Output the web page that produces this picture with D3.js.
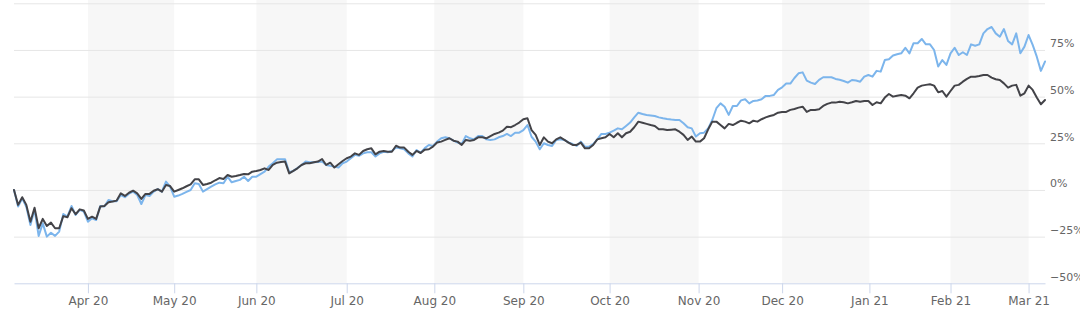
<!doctype html>
<html>
<head>
<meta charset="utf-8">
<title></title>
<script src="https://cdn.jsdelivr.net/npm/d3@7"></script>
<style>
	body { margin: 0; background: #fff; }
	#main text { font-family: "DejaVu Sans", Verdana, sans-serif; font-size: 11px; fill: #666666; }
	#main .x-axis text { font-size: 12px; }
</style>
</head>
<body>
<div id="main"></div>
<script>
// month ticks, as position in trading days from the first point
var tickLabels = ['Apr 20', 'May 20', 'Jun 20', 'Jul 20', 'Aug 20', 'Sep 20', 'Oct 20', 'Nov 20', 'Dec 20', 'Jan 21', 'Feb 21', 'Mar 21'];
var tickIndex = [18, 39, 59, 81, 102.33, 124, 145, 166.67, 187, 208.25, 228, 247];

var yLabelTicks = [-50, -25, 0, 25, 50, 75];
var yGridTicks = [-25, 0, 25, 50, 75, 100];

// % change, one value per trading day
var seriesBlue = [
	0, -8.9, -4.5, -9, -18.8, -10.5, -24.6, -17.9, -25, -22.9,
	-24.6, -22.3, -12.9, -14.3, -8.6, -13.4, -10.7, -11.6, -17, -15.2,
	-16.1, -8.6, -8.9, -5.4, -6, -6, -2.7, -3.9, -2, -0.9,
	-2.7, -7.5, -2.7, -3.2, -0.9, 0.4, -0.9, 4.5, 1.8, -3.6,
	-3, -2.1, -1, 0, 3.6, 3.2, -0.9, 0.5, 1.8, 3,
	3.9, 3.6, 7.1, 4.1, 4.8, 5.4, 7.1, 4.8, 7.1, 7.1,
	8.5, 9.8, 12.5, 14.3, 16.4, 16.4, 16.4, 9.5, 10.2, 11.8,
	13.4, 15.2, 14.8, 14.8, 15, 15.2, 13.4, 12.9, 12.5, 12,
	14.3, 15.2, 17, 18.8, 18.3, 19.6, 20.2, 20.2, 17.9, 19.6,
	20.5, 20.2, 20.9, 22.7, 22.3, 21.8, 19.6, 17.9, 21.4, 20,
	22.4, 24.1, 23.6, 25.9, 27.7, 28.2, 27.7, 26.4, 25.4, 24.6,
	28.9, 27.7, 27.1, 28.9, 28.9, 27.1, 26.8, 27.1, 28.2, 28.9,
	30, 28.9, 30.7, 30.7, 32.1, 34.8, 28.5, 25.9, 21.8, 25,
	24.1, 23.6, 26.8, 27.1, 26.8, 25.4, 24.6, 23.6, 25.9, 23.2,
	23.2, 24.6, 27.1, 30, 30, 30.7, 31.8, 33, 32.5, 34.3,
	36.1, 38.9, 41.4, 40.7, 40.2, 39.9, 39.6, 38.9, 38.4, 38,
	37.7, 37.5, 37.5, 35.7, 33.6, 33, 28.6, 30.4, 30.7, 33,
	37.5, 43.8, 46.4, 44.6, 40.2, 45, 45, 48, 48.6, 46.4,
	47.7, 47.9, 48.6, 50.4, 50.4, 50.9, 53.6, 55, 57, 57,
	60, 62.5, 63, 58.6, 57.5, 56.8, 59, 60.4, 60.4, 60.4,
	59.5, 59, 58.4, 57.5, 58.9, 58.6, 58, 60.7, 61.6, 60.7,
	63.8, 63.4, 69.6, 70, 72, 72.7, 73.2, 76.2, 73.2, 78.6,
	78.6, 80.9, 78, 78, 75, 66.1, 69.6, 67, 73.2, 76.2,
	72.3, 73.8, 72.3, 78, 77.3, 78, 83.9, 86.2, 87.3, 83.9,
	82.1, 86.2, 79.8, 78, 83.9, 73.2, 76.8, 83, 77.7, 71.4,
	63.8, 68.8
];
var seriesDark = [
	0, -8, -3.9, -8, -17, -9.5, -20.5, -15.5, -19.3, -17.5,
	-20.5, -20.5, -14, -14.6, -9.8, -13, -10.4, -11, -15.5, -14.3,
	-15.5, -8.9, -8.6, -6.6, -6.2, -5.7, -1.8, -3.2, -1.5, -0.4,
	-1.8, -4.8, -2.1, -2.1, -0.4, 0.4, -0.9, 2.7, 2.1, -0.9,
	0, 0.9, 2, 3, 5.7, 5.7, 2.7, 3.2, 3.9, 5.2,
	6.4, 5.9, 8, 7.1, 7.5, 8, 8.6, 8.4, 9.8, 10.2,
	10.7, 11.6, 10.7, 13.4, 14.6, 15, 15.2, 8.9, 10.2, 11.6,
	13.4, 14.3, 14.3, 14.8, 15.2, 16.6, 13.4, 14.6, 12, 13.8,
	15.5, 17, 17.9, 19.6, 18.8, 20.9, 21.8, 22.3, 19.1, 20.5,
	20.9, 20.5, 20.5, 23.7, 22.7, 22.7, 20.5, 18.8, 20.9, 19.8,
	21.6, 21.8, 23.2, 25.4, 25.9, 26.8, 27.7, 26.4, 25.9, 24.1,
	26.8, 26.4, 26.8, 28.2, 28.2, 27.7, 28.9, 30, 30.7, 31.8,
	33.9, 33.6, 34.8, 36.1, 37.9, 38.4, 32.1, 29.5, 24.1, 28.2,
	25.9, 25, 27.1, 28.2, 26.8, 25.4, 24.1, 24.1, 25.4, 22.3,
	22.3, 24.1, 27.1, 27.7, 28.2, 30, 28.2, 30.4, 28.2, 30.4,
	31.2, 33.6, 36.6, 36, 35.4, 34.8, 34.3, 32.5, 32.5, 32.1,
	32.3, 32.5, 31.2, 29.5, 26.8, 28.6, 25.9, 25.9, 27.7, 32.5,
	36.6, 36.6, 34.8, 33, 35.4, 34.8, 36, 37.1, 36.6, 35.7,
	37.1, 36.6, 37.9, 38.9, 39.6, 40.2, 41.4, 41.8, 41.8, 42.9,
	43.4, 44.1, 44.6, 41.8, 42.9, 42.9, 43.2, 45, 46.1, 46.8,
	46.8, 47.3, 47, 46.4, 47, 47.7, 47.3, 47.7, 47.7, 45.5,
	47, 46.4, 49.5, 51.4, 50, 50.5, 50.9, 50.5, 49.1, 51.8,
	54.8, 55.9, 56.3, 56.6, 55.9, 52.3, 53, 50, 53, 55.9,
	56.3, 58, 59.5, 60.7, 60.7, 61.1, 61.6, 61.6, 60.2, 59.3,
	58.9, 57.1, 54.8, 55.9, 56.3, 50.5, 51.8, 55.9, 53.6, 49.5,
	45.9, 48.2
];

var width = 1080, height = 318;
var plot = { left: 14, right: 1045, top: 3.3, bottom: 283.3 };

var svg = d3.select('#main').append('svg')
	.attr('width', width)
	.attr('height', height);

var x = d3.scaleLinear()
	.domain([0, seriesDark.length - 1])
	.range([plot.left, plot.right]);

var y = d3.scaleLinear()
	.domain([-50, 100])
	.range([plot.bottom, plot.top]);

// alternate month bands: Apr-May, Jun-Jul, ...
var bands = [];
for (var i = 0; i + 1 < tickIndex.length; i += 2) {
	bands.push([tickIndex[i], tickIndex[i + 1]]);
}
svg.append('g').selectAll('rect')
	.data(bands)
	.enter().append('rect')
	.attr('x', function(d) { return x(d[0]); })
	.attr('y', 0)
	.attr('width', function(d) { return x(d[1]) - x(d[0]); })
	.attr('height', plot.bottom)
	.attr('fill', '#f7f7f7');

// horizontal grid lines
var grid = svg.append('g')
	.attr('transform', 'translate(' + plot.left + ',0)')
	.call(d3.axisRight(y)
		.tickValues(yGridTicks)
		.tickSize(plot.right - plot.left)
		.tickFormat(''));
grid.select('.domain').remove();
grid.selectAll('line').attr('stroke', '#e6e6e6');

// y labels on the right (the lowest ones run off the edge, as in the original)
var yAxis = svg.append('g')
	.attr('transform', 'translate(' + plot.right + ',0)')
	.call(d3.axisRight(y)
		.tickValues(yLabelTicks)
		.tickSize(0)
		.tickPadding(5)
		.tickFormat(function(d) { return (d < 0 ? '\u2212' + (-d) : d) + '%'; }));
yAxis.select('.domain').remove();
yAxis.selectAll('text').attr('dy', -3).attr('fill', null);

// x axis with month labels
var xAxis = svg.append('g')
	.attr('class', 'x-axis')
	.attr('transform', 'translate(0,' + plot.bottom + ')')
	.call(d3.axisBottom(x)
		.tickValues(tickIndex)
		.tickSize(10)
		.tickSizeOuter(0)
		.tickPadding(3)
		.tickFormat(function(d, i) { return tickLabels[i]; }));
xAxis.select('.domain').attr('stroke', '#ccd6eb');
xAxis.selectAll('line').attr('stroke', '#ccd6eb');
xAxis.selectAll('text').attr('fill', null);

var line = d3.line()
	.x(function(d, i) { return x(i); })
	.y(function(d) { return y(d); });

// blue first, dark drawn over it
[[seriesBlue, '#7cb5ec'], [seriesDark, '#434348']].forEach(function(s) {
	svg.append('path')
		.datum(s[0])
		.attr('d', line)
		.attr('fill', 'none')
		.attr('stroke', s[1])
		.attr('stroke-width', 2)
		.attr('stroke-linejoin', 'round')
		.attr('stroke-linecap', 'round');
});
</script>
</body>
</html>
